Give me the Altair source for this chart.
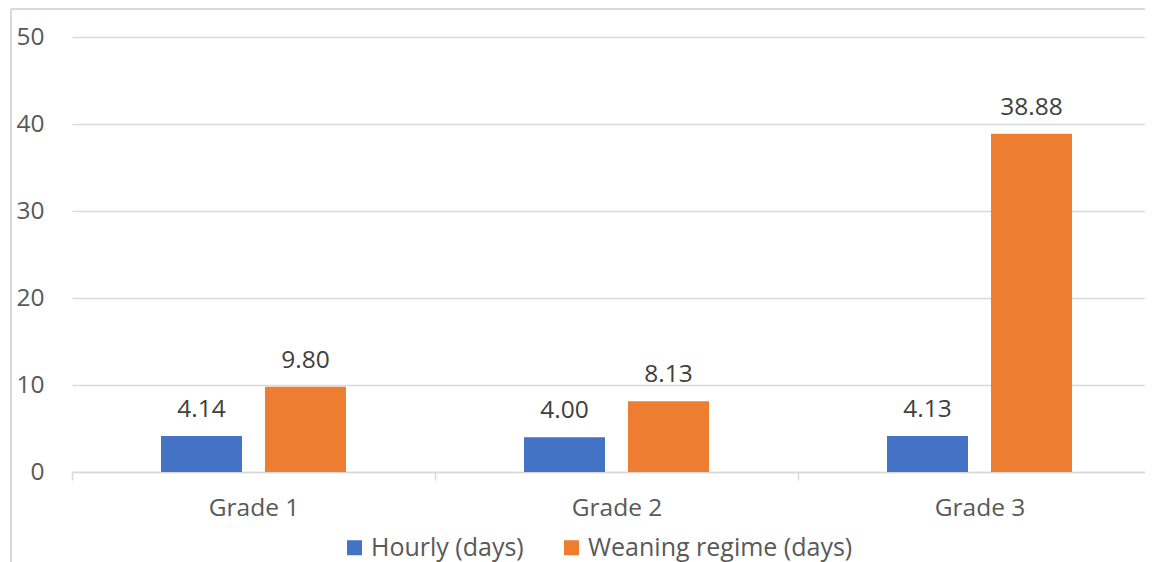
import altair as alt
import pandas as pd

grades = ["Grade 1", "Grade 2", "Grade 3"]
series = ["Hourly (days)", "Weaning regime (days)"]
hourly = [4.14, 4.00, 4.13]
weaning = [9.80, 8.13, 38.88]
colors = ["#4472C4", "#ED7D31"]
y_ticks = [0, 10, 20, 30, 40, 50]

rows = []
for g, h, w in zip(grades, hourly, weaning):
    rows.append({"grade": g, "series": series[0], "value": h})
    rows.append({"grade": g, "series": series[1], "value": w})
df = pd.DataFrame(rows)
df["label"] = df["value"].map(lambda v: f"{v:.2f}")

FONT = "Open Sans"
GRID = "#D9D9D9"
W, H = 1073, 435
FULL_W = 1089

x = alt.X(
    "grade:N", sort=grades, title=None,
    scale=alt.Scale(range=[0, FULL_W], paddingInner=0, paddingOuter=0),
    axis=alt.Axis(labelAngle=0, tickBand="extent", domainColor=GRID, domainWidth=1.5,
                  tickColor=GRID, tickWidth=1.5, tickSize=8, labelFontSize=24.5,
                  labelColor="#595959", labelFont=FONT, labelPadding=16, grid=False),
)
xoff = alt.XOffset("series:N", sort=series,
                   scale=alt.Scale(paddingInner=0.221, paddingOuter=0.856))
y = alt.Y(
    "value:Q", title=None,
    scale=alt.Scale(domain=[0, 50], nice=False),
    axis=alt.Axis(values=y_ticks, domain=False, ticks=False, gridColor=GRID, gridWidth=1.5,
                  labelFontSize=24.5, labelColor="#595959", labelFont=FONT, labelPadding=28),
)
color = alt.Color(
    "series:N", sort=series,
    scale=alt.Scale(domain=series, range=colors),
    legend=alt.Legend(title=None, orient="none", direction="horizontal",
                      legendX=270, legendY=498, symbolType="square", symbolSize=225,
                      symbolStrokeWidth=0, symbolOpacity=1, labelFontSize=25,
                      labelFont=FONT, labelColor="#595959", columnPadding=35,
                      labelOffset=4, labelLimit=500, padding=0),
)

base = alt.Chart(df)
bars = base.mark_bar().encode(x=x, xOffset=xoff, y=y, color=color)
labels = base.mark_text(dy=-19, baseline="alphabetic", fontSize=24.5, font=FONT,
                        color="#404040").encode(x=x, xOffset=xoff, y=y, text="label:N")

border_df = pd.DataFrame({"b": [0]})
left_border = alt.Chart(border_df).mark_rule(color=GRID, strokeWidth=2).encode(
    x=alt.value(-61), y=alt.value(-28), y2=alt.value(H + 100))
top_border = alt.Chart(border_df).mark_rule(color=GRID, strokeWidth=2).encode(
    x=alt.value(-61), x2=alt.value(W + 10), y=alt.value(-28))

chart = alt.layer(bars, labels, left_border, top_border).properties(
    width=W, height=H,
    padding={"left": 64, "top": 29, "right": 0, "bottom": 90},
    autosize=alt.AutoSizeParams(type="none"),
).configure_view(stroke=None)

chart.save("out.html", embed_options={"renderer": "svg", "actions": False})
